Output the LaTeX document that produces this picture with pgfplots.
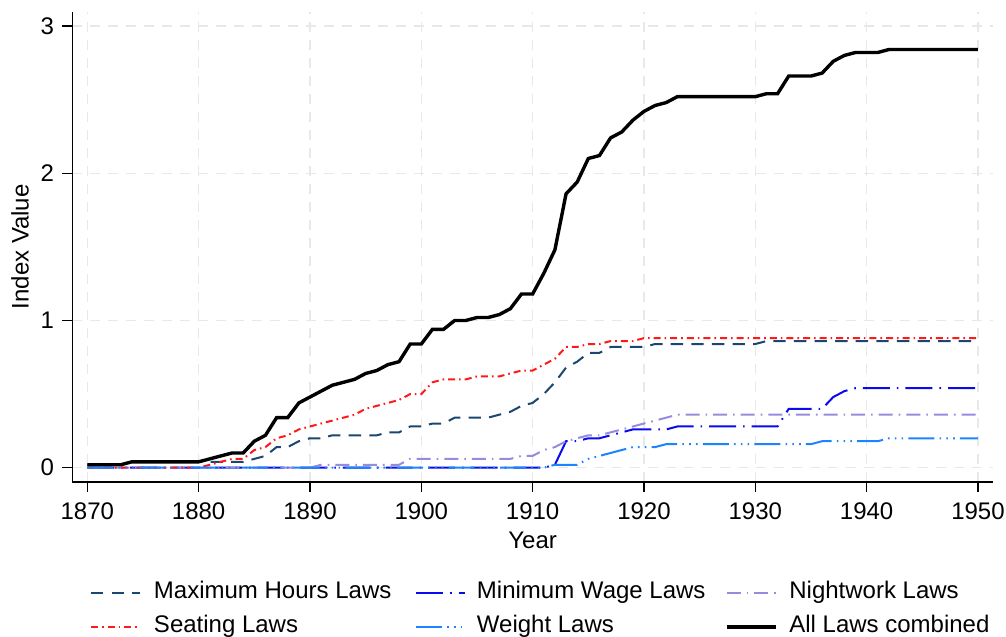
\documentclass[border=0pt]{standalone}
\usepackage{pgfplots}
\pgfplotsset{compat=1.18}
\usepackage{fontspec}
\setmainfont{Liberation Sans}
\definecolor{navyc}{HTML}{1A476F}
\definecolor{minblue}{HTML}{0A0AF0}
\definecolor{lavc}{HTML}{968CDC}
\definecolor{redc}{HTML}{FF1A1A}
\definecolor{weightc}{HTML}{1A85FF}
\begin{document}
\fontsize{12}{14.4}\selectfont
\begin{tikzpicture}
\begin{axis}[
  name=ax, at={(0pt,0pt)}, anchor=south west,
  scale only axis, width=460.35pt, height=235.15pt,
  xmin=1868.65, xmax=1951.35, ymin=-0.097, ymax=3.097,
  axis x line*=bottom, axis y line*=left,
  axis line style={line width=0.7pt, black},
  xtick={1870,1880,...,1950}, ytick={0,1,2,3},
  /pgf/number format/1000 sep={},
  /pgf/number format/assume math mode=true,
  tick align=outside, major tick length=5pt,
  tick style={black, line width=0.7pt},
  xticklabel style={yshift=-1.2pt},
  grid=major,
  major grid style={line width=0.7pt, color=black!9, dash pattern=on 5pt off 4pt},
  xlabel={Year}, ylabel={Index Value},
  xlabel style={at={(axis description cs:0.5,-0.1233)}, anchor=center},
  ylabel style={at={(axis description cs:-0.0568,0.5)}, anchor=center},
  legend columns=3,
  legend cell align=left,
  legend image code/.code={\draw[#1] (0pt,0pt) -- (24.5pt,0pt);},
  legend style={at={(axis description cs:0.01922,-0.2105)}, anchor=north west,
    draw=none, fill=none, inner sep=0pt, outer sep=0pt,
    row sep=5pt, column sep=0pt,
    nodes={inner sep=0pt, text height=9pt, text depth=3pt, anchor=west}},
]
% Maximum Hours Laws
\addplot[navyc, line width=1pt, dash pattern=on 6.2pt off 4.1pt] coordinates {
(1870,0.02)(1873,0.02)(1874,0.04)(1884,0.04)(1885,0.06)(1886,0.08)(1887,0.14)(1888,0.14)
(1889,0.18)(1890,0.20)(1891,0.20)(1892,0.22)(1896,0.22)(1897,0.24)(1898,0.24)(1899,0.28)
(1900,0.28)(1901,0.30)(1902,0.30)(1903,0.34)(1906,0.34)(1907,0.36)(1908,0.38)(1909,0.42)
(1910,0.44)(1911,0.50)(1912,0.58)(1913,0.68)(1914,0.72)(1915,0.78)(1916,0.78)(1917,0.82)
(1920,0.82)(1921,0.84)(1930,0.84)(1931,0.86)(1950,0.86)};
\addlegendentry{\makebox[137pt][l]{\hspace{6.5pt}Maximum Hours Laws}}
% Minimum Wage Laws
\addplot[minblue, line width=1pt, dash pattern=on 13.5pt off 3.5pt on 0.8pt off 3.5pt] coordinates {
(1870,0)(1911,0)(1912,0.02)(1913,0.18)(1914,0.18)(1915,0.20)(1916,0.20)(1917,0.22)(1918,0.24)
(1919,0.26)(1922,0.26)(1923,0.28)(1932,0.28)(1933,0.40)(1936,0.40)(1937,0.48)(1938,0.52)
(1939,0.54)(1950,0.54)};
\addlegendentry{\makebox[129.5pt][l]{\hspace{5.5pt}Minimum Wage Laws}}
% Nightwork Laws
\addplot[lavc, line width=1pt, dash pattern=on 7pt off 3pt on 0.8pt off 3pt] coordinates {
(1870,0)(1890,0)(1891,0.02)(1898,0.02)(1899,0.06)(1908,0.06)(1909,0.08)(1910,0.08)
(1911,0.12)(1912,0.14)(1913,0.18)(1914,0.20)(1915,0.22)(1916,0.22)(1917,0.24)(1918,0.26)
(1919,0.28)(1920,0.30)(1921,0.32)(1922,0.34)(1923,0.36)(1950,0.36)};
\addlegendentry{\hspace{6pt}Nightwork Laws}
% Seating Laws
\addplot[redc, line width=1pt, dash pattern=on 3.5pt off 2pt on 0.8pt off 2pt] coordinates {
(1870,0)(1880,0)(1881,0.02)(1882,0.04)(1883,0.06)(1884,0.06)(1885,0.12)(1886,0.14)
(1887,0.20)(1888,0.22)(1889,0.26)(1890,0.28)(1891,0.30)(1892,0.32)(1893,0.34)(1894,0.36)
(1895,0.40)(1896,0.42)(1897,0.44)(1898,0.46)(1899,0.50)(1900,0.50)(1901,0.58)(1902,0.60)
(1904,0.60)(1905,0.62)(1907,0.62)(1908,0.64)(1909,0.66)(1910,0.66)(1911,0.70)(1912,0.74)
(1913,0.82)(1914,0.82)(1915,0.84)(1916,0.84)(1917,0.86)(1919,0.86)(1920,0.88)(1950,0.88)};
\addlegendentry{\makebox[137pt][l]{\hspace{6.5pt}Seating Laws}}
% Weight Laws
\addplot[weightc, line width=1pt, dash pattern=on 13pt off 2.6pt on 0.8pt off 2.6pt on 0.8pt off 2.6pt on 0.8pt off 2.6pt] coordinates {
(1870,0)(1911,0)(1912,0.02)(1914,0.02)(1915,0.06)(1916,0.08)(1917,0.10)(1918,0.12)
(1919,0.14)(1921,0.14)(1922,0.16)(1935,0.16)(1936,0.18)(1941,0.18)(1942,0.20)(1950,0.20)};
\addlegendentry{\makebox[129.5pt][l]{\hspace{5.5pt}Weight Laws}}
% All Laws combined
\addplot[black, line width=1.7pt] coordinates {
(1870,0.02)(1873,0.02)(1874,0.04)(1880,0.04)(1881,0.06)(1882,0.08)(1883,0.10)(1884,0.10)
(1885,0.18)(1886,0.22)(1887,0.34)(1888,0.34)(1889,0.44)(1890,0.48)(1891,0.52)(1892,0.56)
(1893,0.58)(1894,0.60)(1895,0.64)(1896,0.66)(1897,0.70)(1898,0.72)(1899,0.84)(1900,0.84)
(1901,0.94)(1902,0.94)(1903,1.00)(1904,1.00)(1905,1.02)(1906,1.02)(1907,1.04)(1908,1.08)
(1909,1.18)(1910,1.18)(1911,1.32)(1912,1.48)(1913,1.86)(1914,1.94)(1915,2.10)(1916,2.12)
(1917,2.24)(1918,2.28)(1919,2.36)(1920,2.42)(1921,2.46)(1922,2.48)(1923,2.52)(1930,2.52)
(1931,2.54)(1932,2.54)(1933,2.66)(1935,2.66)(1936,2.68)(1937,2.76)(1938,2.80)(1939,2.82)
(1941,2.82)(1942,2.84)(1950,2.84)};
\addlegendentry{\hspace{6pt}All Laws combined}
\end{axis}
\pgfresetboundingbox
\path[use as bounding box] ([shift={(-36.15pt,-77.5pt)}]ax.south west) rectangle ([shift={(6.5pt,5.85pt)}]ax.north east);
\end{tikzpicture}
\end{document}
